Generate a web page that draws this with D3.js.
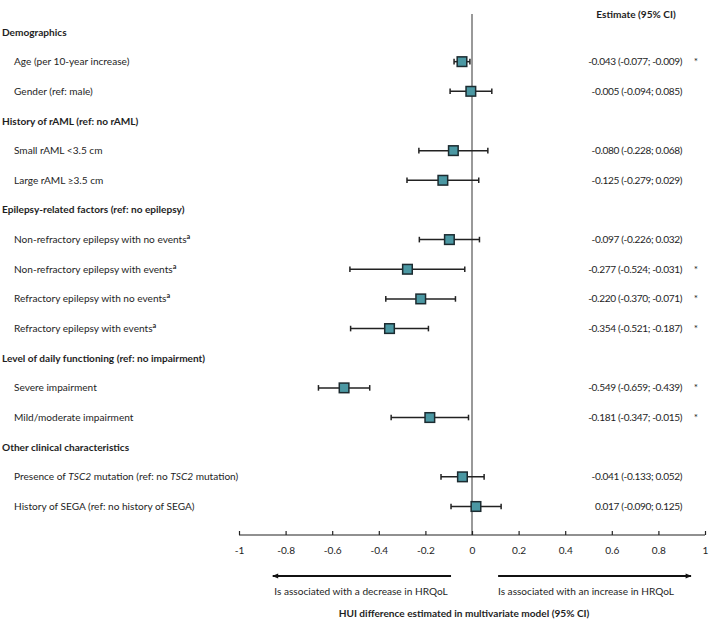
<!DOCTYPE html>
<html><head><meta charset="utf-8">
<script src="https://cdn.jsdelivr.net/npm/d3@7"></script>
<style>
body{margin:0;background:#fff;}
svg{display:block;font-family:Lato,"Open Sans",sans-serif;}
</style></head><body>
<svg id="chart" width="709" height="619"></svg>
<script>
// ---- data ----
const rowLabels = [
  "Demographics",
  "Age (per 10-year increase)",
  "Gender (ref: male)",
  "History of rAML (ref: no rAML)",
  "Small rAML <3.5 cm",
  "Large rAML \u22653.5 cm",
  "Epilepsy-related factors (ref: no epilepsy)",
  "Non-refractory epilepsy with no events",
  "Non-refractory epilepsy with events",
  "Refractory epilepsy with no events",
  "Refractory epilepsy with events",
  "Level of daily functioning (ref: no impairment)",
  "Severe impairment",
  "Mild/moderate impairment",
  "Other clinical characteristics",
  "Presence of TSC2 mutation (ref: no TSC2 mutation)",
  "History of SEGA (ref: no history of SEGA)"
];
const isHeader = [1,0,0,1,0,0,1,0,0,0,0,1,0,0,1,0,0];
const hasFootnote = [0,0,0,0,0,0,0,1,1,1,1,0,0,0,0,0,0];
const estimates = [null,-0.043,-0.005,null,-0.080,-0.125,null,-0.097,-0.277,-0.220,-0.354,null,-0.549,-0.181,null,-0.041,0.017];
const lowerCI   = [null,-0.077,-0.094,null,-0.228,-0.279,null,-0.226,-0.524,-0.370,-0.521,null,-0.659,-0.347,null,-0.133,-0.090];
const upperCI   = [null,-0.009, 0.085,null, 0.068, 0.029,null, 0.032,-0.031,-0.071,-0.187,null,-0.439,-0.015,null, 0.052, 0.125];
const significant=[0,1,0,0,0,0,0,0,1,1,1,0,1,1,0,0,0];
const tickValues = [-1,-0.8,-0.6,-0.4,-0.2,0,0.2,0.4,0.6,0.8,1];
const tickLabels = ["-1","-0.8","-0.6","-0.4","-0.2","0","0.2","0.4","0.6","0.8","1"];
const axisTitle = "HUI difference estimated in multivariate model (95% CI)";
const leftNote = "Is associated with a decrease in HRQoL";
const rightNote = "Is associated with an increase in HRQoL";
const estHeader = "Estimate (95% CI)";

// ---- layout ----
const svg = d3.select("#chart");
const x = d3.scaleLinear().domain([-1,1]).range([239,705]);
const y = d3.scaleLinear().domain([0,16]).range([32,506.5]);
const axisY = 535;
const textColor = "#1e1e1e";
const fs = 10.1;

const fmt = v => d3.format(".3f")(v).replace("\u2212","-");

// zero line
svg.append("line").attr("x1",x(0)).attr("x2",x(0)).attr("y1",14).attr("y2",axisY)
  .attr("stroke","#555").attr("stroke-width",1.2);

// row labels
const labels = svg.append("g");
rowLabels.forEach((lab,i)=>{
  const t = labels.append("text")
    .attr("x", isHeader[i] ? 2 : 14)
    .attr("y", y(i))
    .attr("dy","0.35em")
    .attr("fill",textColor)
    .attr("font-size",fs)
    .attr("font-weight", isHeader[i] ? "bold" : "normal");
  if (lab.includes("TSC2")) {
    const parts = lab.split("TSC2");
    parts.forEach((p,k)=>{
      t.append("tspan").text(p);
      if (k < parts.length-1) t.append("tspan").attr("font-style","italic").text("TSC2");
    });
  } else {
    t.text(lab);
  }
  if (hasFootnote[i]) {
    t.append("tspan").attr("baseline-shift","super").attr("font-size",fs*0.72)
      .attr("font-weight","bold").text("a");
  }
});

// CI lines and markers
const g = svg.append("g");
estimates.forEach((e,i)=>{
  if (e === null) return;
  const yy = y(i);
  g.append("line").attr("x1",x(lowerCI[i])).attr("x2",x(upperCI[i]))
    .attr("y1",yy).attr("y2",yy).attr("stroke","#222").attr("stroke-width",1.5);
  [lowerCI[i],upperCI[i]].forEach(v=>{
    g.append("line").attr("x1",x(v)).attr("x2",x(v))
      .attr("y1",yy-2.8).attr("y2",yy+2.8).attr("stroke","#222").attr("stroke-width",1.5);
  });
  g.append("rect").attr("x",x(e)-4.8).attr("y",yy-4.8).attr("width",9.6).attr("height",9.6)
    .attr("fill","#4b98a3").attr("stroke","#1c2b30").attr("stroke-width",1.5);
});

// estimate column
svg.append("text").attr("x",636).attr("y",14).attr("dy","0.35em")
  .attr("text-anchor","middle").attr("font-weight","bold").attr("font-size",fs)
  .attr("fill",textColor).text(estHeader);
estimates.forEach((e,i)=>{
  if (e === null) return;
  svg.append("text").attr("x",682).attr("y",y(i)).attr("dy","0.35em")
    .attr("text-anchor","end").attr("font-size",fs).attr("letter-spacing","-0.35")
    .attr("fill",textColor)
    .text(`${fmt(e)} (${fmt(lowerCI[i])}; ${fmt(upperCI[i])})`);
  if (significant[i]) {
    svg.append("text").attr("x",696).attr("y",y(i)).attr("dy","0.35em")
      .attr("text-anchor","middle").attr("font-size",fs).attr("fill",textColor).text("*");
  }
});

// axis
const axis = d3.axisTop(x).tickValues(tickValues).tickSize(4).tickFormat((d,i)=>tickLabels[i]);
const ax = svg.append("g").attr("transform",`translate(0,${axisY})`).call(axis);
ax.select(".domain").attr("stroke","#222").attr("stroke-width",1.2).attr("d",`M${x(-1)},0H${x(1)}`);
ax.selectAll(".tick line").attr("stroke","#222").attr("stroke-width",1.2);
ax.selectAll(".tick text").attr("y",15).attr("dy","0.35em").attr("font-size",fs)
  .attr("font-family","Lato,'Open Sans',sans-serif").attr("fill",textColor);

// arrows
const defs = svg.append("defs");
defs.append("marker").attr("id","ah").attr("viewBox","0 0 10 10").attr("refX",9).attr("refY",5)
  .attr("markerWidth",7).attr("markerHeight",6).attr("markerUnits","userSpaceOnUse")
  .attr("orient","auto").append("path").attr("d","M0,1L10,5L0,9Z").attr("fill","#111");
const arrowY = 576;
svg.append("line").attr("x1",x(-0.09)).attr("x2",x(-0.855)).attr("y1",arrowY).attr("y2",arrowY)
  .attr("stroke","#111").attr("stroke-width",1.8).attr("marker-end","url(#ah)");
svg.append("line").attr("x1",x(0.112)).attr("x2",x(0.94)).attr("y1",arrowY).attr("y2",arrowY)
  .attr("stroke","#111").attr("stroke-width",1.8).attr("marker-end","url(#ah)");
svg.append("text").attr("x",361).attr("y",591).attr("dy","0.35em").attr("text-anchor","middle")
  .attr("font-size",fs).attr("fill",textColor).text(leftNote);
svg.append("text").attr("x",586).attr("y",591).attr("dy","0.35em").attr("text-anchor","middle")
  .attr("font-size",fs).attr("fill",textColor).text(rightNote);
svg.append("text").attr("x",464).attr("y",613).attr("dy","0.35em").attr("text-anchor","middle")
  .attr("font-size",fs).attr("font-weight","bold").attr("fill",textColor).text(axisTitle);
</script>
</body></html>
